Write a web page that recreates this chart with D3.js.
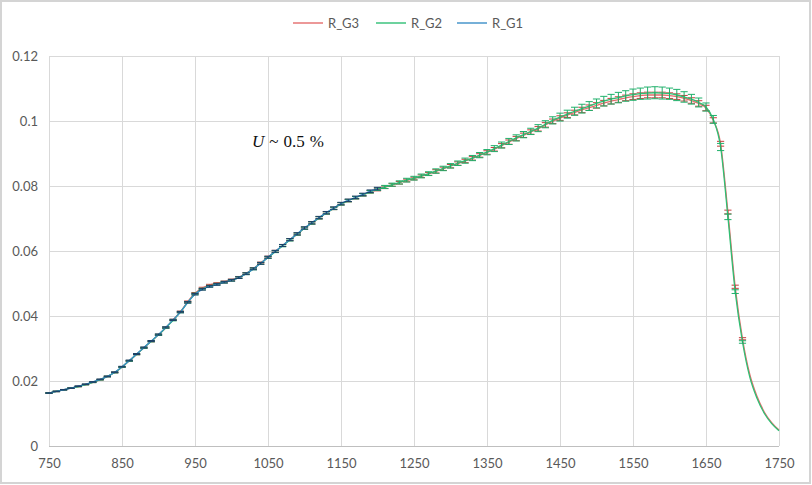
<!DOCTYPE html>
<html>
<head>
<meta charset="utf-8">
<script src="https://cdn.jsdelivr.net/npm/d3@7"></script>
<style>
  html, body { margin: 0; padding: 0; background: #fff; }
  svg { display: block; }
</style>
</head>
<body>
<svg id="chart" width="812" height="485"></svg>
<script>
// ---------- DATA ----------
const wavelengths = [
  750,760,770,780,790,800,810,820,830,840,
  850,860,870,880,890,900,910,920,930,940,
  950,960,970,980,990,1000,1010,1020,1030,1040,
  1050,1060,1070,1080,1090,1100,1110,1120,1130,1140,
  1150,1160,1170,1180,1190,1200,1210,1220,1230,1240,
  1250,1260,1270,1280,1290,1300,1310,1320,1330,1340,
  1350,1360,1370,1380,1390,1400,1410,1420,1430,1440,
  1450,1460,1470,1480,1490,1500,1510,1520,1530,1540,
  1550,1560,1570,1580,1590,1600,1610,1620,1630,1640,
  1650,1660,1670,1680,1690,1700,1710,1720,1730,1740,1750
];

const seriesNames = ["R_G3", "R_G2", "R_G1"];

const valuesG3 = [
  0.0163,0.0168,0.0173,0.0178,0.0183,0.0189,0.0196,0.0204,0.0214,0.0226,
  0.0243,0.0262,0.0282,0.0302,0.0322,0.0342,0.0364,0.0388,0.0413,0.0444,
  0.0470,0.0486,0.0495,0.0500,0.0505,0.0511,0.0519,0.0531,0.0546,0.0563,
  0.0581,0.0599,0.0617,0.0635,0.0652,0.0670,0.0686,0.0702,0.0717,0.0731,
  0.0745,0.0755,0.0764,0.0773,0.0782,0.0789,0.0796,0.0803,0.0810,0.0817,
  0.0823,0.0830,0.0837,0.0845,0.0853,0.0861,0.0869,0.0877,0.0885,0.0894,
  0.0903,0.0913,0.0924,0.0935,0.0946,0.0956,0.0966,0.0976,0.0988,0.0999,
  0.1009,0.1018,0.1026,0.1034,0.1041,0.1048,0.1055,0.1061,0.1066,0.1071,
  0.1075,0.1078,0.1080,0.1080,0.1080,0.1078,0.1075,0.1070,0.1063,0.1054,
  0.1040,0.1002,0.0930,0.0720,0.0490,0.0330,0.0220,0.0152,0.0104,0.0072,0.0049
];

const valuesG2 = [
  0.0163,0.0168,0.0173,0.0178,0.0183,0.0189,0.0196,0.0204,0.0214,0.0226,
  0.0243,0.0262,0.0282,0.0302,0.0322,0.0342,0.0364,0.0387,0.0412,0.0442,
  0.0468,0.0483,0.0492,0.0498,0.0504,0.0510,0.0518,0.0530,0.0545,0.0562,
  0.0580,0.0598,0.0616,0.0634,0.0652,0.0670,0.0686,0.0702,0.0717,0.0731,
  0.0745,0.0755,0.0764,0.0773,0.0782,0.0790,0.0797,0.0804,0.0811,0.0818,
  0.0824,0.0831,0.0838,0.0846,0.0854,0.0862,0.0870,0.0878,0.0886,0.0895,
  0.0904,0.0915,0.0926,0.0937,0.0948,0.0958,0.0968,0.0978,0.0990,0.1002,
  0.1012,0.1021,0.1030,0.1038,0.1046,0.1054,0.1061,0.1067,0.1072,0.1077,
  0.1081,0.1084,0.1086,0.1087,0.1086,0.1084,0.1080,0.1074,0.1067,0.1057,
  0.1043,0.1005,0.0920,0.0705,0.0475,0.0320,0.0212,0.0146,0.0100,0.0069,0.0047
];

const valuesG1 = [
  0.0163,0.0168,0.0173,0.0178,0.0184,0.0190,0.0197,0.0205,0.0214,0.0227,
  0.0244,0.0263,0.0283,0.0303,0.0323,0.0343,0.0365,0.0388,0.0412,0.0442,
  0.0467,0.0482,0.0491,0.0497,0.0504,0.0510,0.0518,0.0530,0.0545,0.0562,
  0.0581,0.0599,0.0617,0.0635,0.0653,0.0671,0.0687,0.0703,0.0718,0.0732,
  0.0746,0.0756,0.0765,0.0774,0.0784,0.0792
];

// relative uncertainty in % for each point (0 = no error bar)
const uncG3 = [
  0.5,0.5,0.5,0.5,0.5,0.5,0.5,0.5,0.5,0.5,
  0.5,0.5,0.5,0.5,0.5,0.5,0.5,0.5,0.5,0.5,
  0.5,0.5,0.5,0.5,0.5,0.5,0.5,0.5,0.5,0.5,
  0.5,0.5,0.5,0.5,0.5,0.5,0.5,0.5,0.5,0.5,
  0.5,0.5,0.5,0.5,0.5,0.5,0.5,0.5,0.5,0.5,
  0.5,0.5,0.5,0.6,0.6,0.6,0.6,0.6,0.6,0.6,
  0.6,0.6,0.7,0.7,0.7,0.7,0.7,0.7,0.7,0.7,
  0.7,0.7,0.7,0.8,0.8,0.8,0.8,0.8,0.8,0.8,
  0.8,0.8,0.8,0.8,0.8,0.8,0.8,0.8,0.8,0.8,
  0.8,0.8,0.8,0.8,1.0,1.0,0,0,0,0,0
];

const uncG2 = [
  0.5,0.5,0.5,0.5,0.5,0.5,0.5,0.5,0.5,0.5,
  0.5,0.5,0.5,0.5,0.5,0.5,0.5,0.5,0.5,0.5,
  0.5,0.5,0.5,0.5,0.5,0.5,0.5,0.5,0.5,0.5,
  0.5,0.5,0.5,0.5,0.5,0.5,0.5,0.5,0.5,0.5,
  0.5,0.5,0.5,0.5,0.5,0.5,0.6,0.6,0.6,0.7,
  0.7,0.7,0.7,0.8,0.8,0.8,0.8,0.9,0.9,0.9,
  0.9,1.0,1.0,1.0,1.0,1.0,1.0,1.1,1.1,1.1,
  1.2,1.2,1.2,1.3,1.3,1.3,1.4,1.4,1.5,1.5,
  1.6,1.6,1.7,1.7,1.7,1.6,1.6,1.5,1.4,1.3,
  1.2,1.2,1.2,1.2,1.2,1.2,0,0,0,0,0
];

const uncG1 = [
  0.5,0.5,0.5,0.5,0.5,0.5,0.5,0.5,0.5,0.5,
  0.5,0.5,0.5,0.5,0.5,0.5,0.5,0.5,0.5,0.5,
  0.5,0.5,0.5,0.5,0.5,0.5,0.5,0.5,0.5,0.5,
  0.5,0.5,0.5,0.5,0.5,0.5,0.5,0.5,0.5,0.5,
  0.5,0.5,0.5,0.5,0.5,0.5
];

const xTicks = [750, 850, 950, 1050, 1150, 1250, 1350, 1450, 1550, 1650, 1750];
const yTicks = [0, 0.02, 0.04, 0.06, 0.08, 0.1, 0.12];
const yTickLabels = ["0", "0.02", "0.04", "0.06", "0.08", "0.1", "0.12"];
const annotationParts = ["~", "0.5", "%"];

// ---------- DRAW ----------
const svg = d3.select("#chart");
const W = 812, H = 485;
const plot = { left: 49, right: 779, top: 56, bottom: 446 };

svg.append("rect").attr("x", 1).attr("y", 1).attr("width", W - 3).attr("height", H - 3)
  .attr("fill", "#fff").attr("stroke", "#d4d4d4").attr("stroke-width", 2);

const x = d3.scaleLinear().domain([750, 1750]).range([plot.left, plot.right]);
const y = d3.scaleLinear().domain([0, 0.12]).range([plot.bottom, plot.top]);

const font = "Lato, 'Open Sans', sans-serif";
const textColor = "#595959";
const gridColor = "#d9d9d9";

// vertical gridlines + x labels
const xAxis = svg.append("g").attr("transform", `translate(0,${plot.bottom})`)
  .call(d3.axisBottom(x).tickValues(xTicks).tickSize(-(plot.bottom - plot.top)).tickPadding(13).tickFormat(d3.format("d")));
xAxis.select(".domain").remove();
xAxis.selectAll(".tick line").attr("stroke", gridColor).attr("stroke-width", 1);
xAxis.selectAll(".tick text").attr("fill", textColor).style("font-family", font).style("font-size", "13px");

// horizontal gridlines + y labels
const yAxis = svg.append("g").attr("transform", `translate(${plot.left},0)`)
  .call(d3.axisLeft(y).tickValues(yTicks).tickSize(-(plot.right - plot.left)).tickPadding(11)
    .tickFormat((d, i) => yTickLabels[i]));
yAxis.select(".domain").remove();
yAxis.selectAll(".tick line").attr("stroke", gridColor).attr("stroke-width", 1);
yAxis.selectAll(".tick text").attr("fill", textColor).style("font-family", font).style("font-size", "13px");

// bottom axis line
svg.append("line").attr("x1", plot.left).attr("x2", plot.right)
  .attr("y1", y(0) + 0.5).attr("y2", y(0) + 0.5).attr("stroke", "#bfbfbf").attr("stroke-width", 1);

const series = [
  { name: seriesNames[0], values: valuesG3, unc: uncG3, color: "#e46c6c", errColor: "#c83c3c" },
  { name: seriesNames[1], values: valuesG2, unc: uncG2, color: "#2fbf74", errColor: "#1fb06a" },
  { name: seriesNames[2], values: valuesG1, unc: uncG1, color: "#3b8fc8", errColor: "#1d3f66" }
];

const line = d3.line()
  .x(d => x(d.w)).y(d => y(d.v))
  .curve(d3.curveMonotoneX);

series.forEach(s => {
  const pts = s.values.map((v, i) => ({ w: wavelengths[i], v: v, e: v * s.unc[i] / 100, u: s.unc[i] }));
  const g = svg.append("g");
  g.append("path").datum(pts).attr("d", line)
    .attr("fill", "none").attr("stroke", s.color).attr("stroke-width", 1.3);

  const eb = g.selectAll(".eb").data(pts.filter(p => p.u > 0)).enter().append("g")
    .attr("stroke", s.errColor).attr("stroke-width", 1);
  const cap = 3.6;
  eb.append("line")
    .attr("x1", d => x(d.w)).attr("x2", d => x(d.w))
    .attr("y1", d => y(d.v + d.e)).attr("y2", d => y(d.v - d.e));
  eb.append("line")
    .attr("x1", d => x(d.w) - cap).attr("x2", d => x(d.w) + cap)
    .attr("y1", d => y(d.v + d.e)).attr("y2", d => y(d.v + d.e));
  eb.append("line")
    .attr("x1", d => x(d.w) - cap).attr("x2", d => x(d.w) + cap)
    .attr("y1", d => y(d.v - d.e)).attr("y2", d => y(d.v - d.e));
});

// legend
const legendX = [293, 376, 457];
series.forEach((s, i) => {
  const lg = svg.append("g").attr("transform", `translate(${legendX[i]},23)`);
  lg.append("line").attr("x1", 0).attr("x2", 30).attr("y1", 0).attr("y2", 0)
    .attr("stroke", s.color).attr("stroke-width", 1.4);
  lg.append("text").attr("x", 35).attr("y", 0).attr("dy", "0.35em")
    .attr("fill", textColor).style("font-family", font).style("font-size", "13px")
    .text(s.name);
});

// annotation
const ann = svg.append("text").attr("x", 252).attr("y", 147)
  .style("font-family", "'Liberation Serif', 'DejaVu Serif', serif").style("font-size", "17px")
  .attr("fill", "#111");
ann.append("tspan").style("font-style", "italic").text("U");
ann.append("tspan").attr("dx", 5).text(annotationParts[0]);
ann.append("tspan").attr("dx", 5).text(annotationParts[1]);
ann.append("tspan").attr("dx", 5).text(annotationParts[2]);
</script>
</body>
</html>
